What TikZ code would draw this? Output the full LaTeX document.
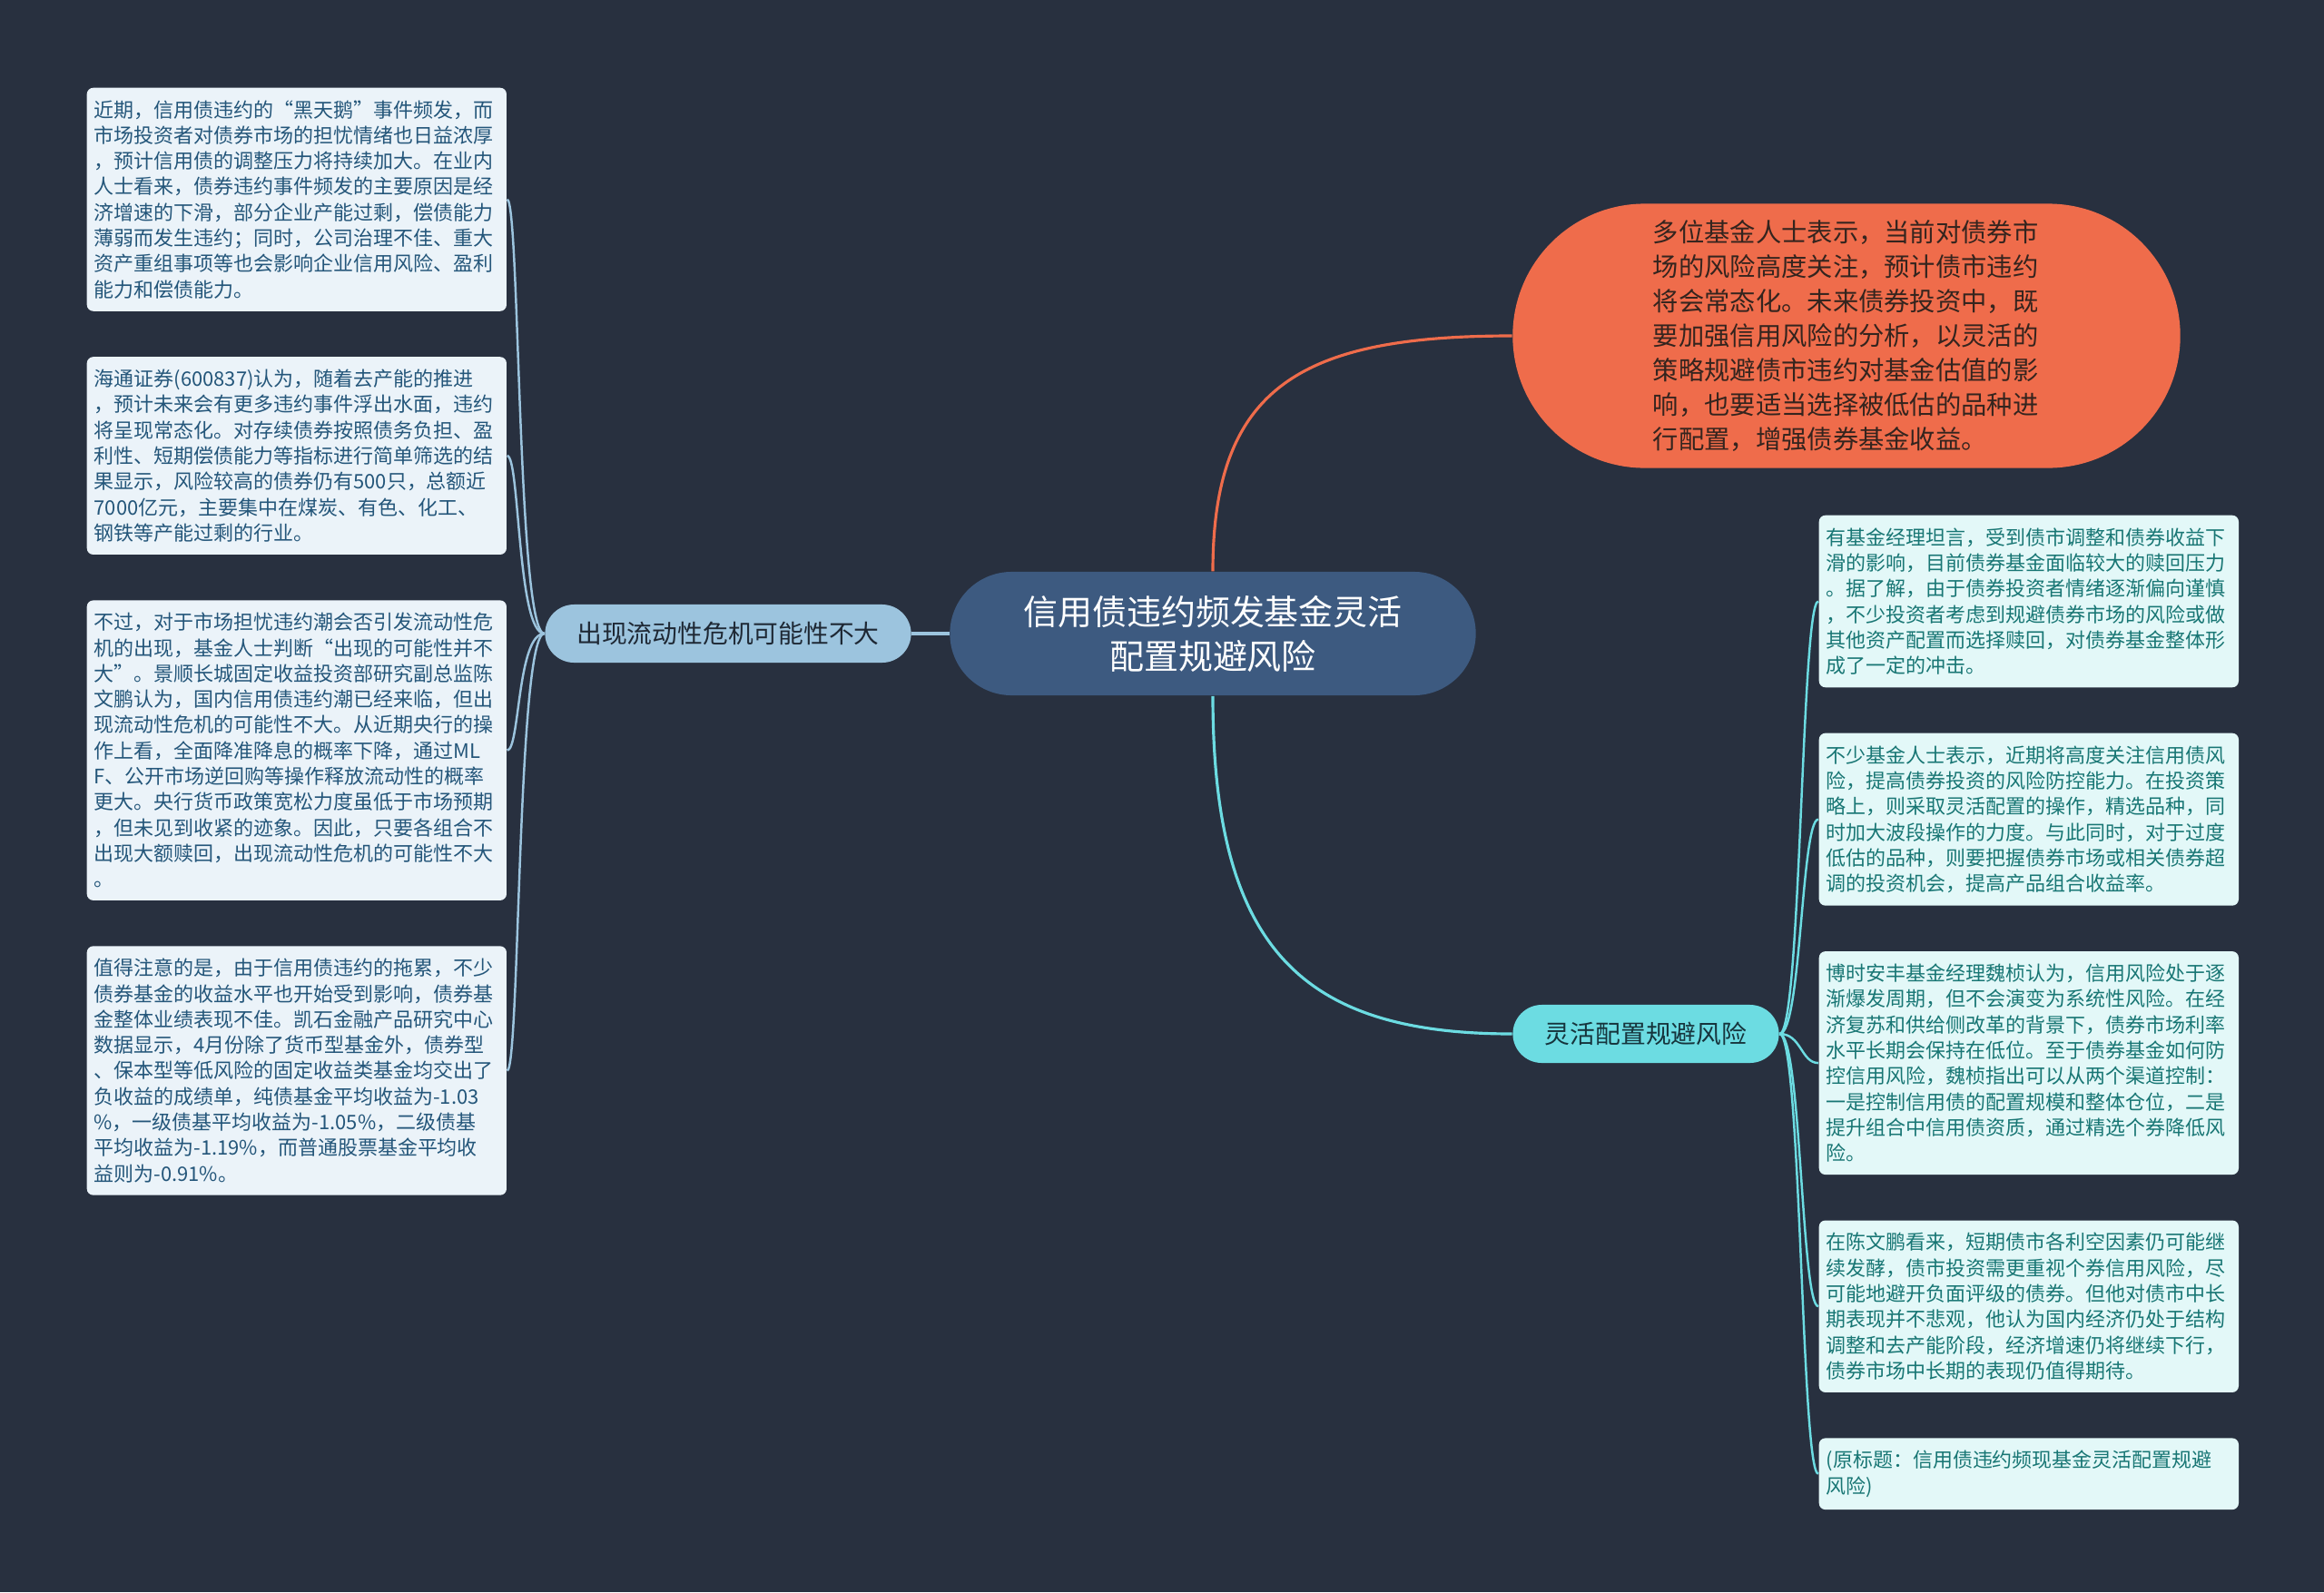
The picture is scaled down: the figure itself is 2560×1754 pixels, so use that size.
\documentclass[tikz,border=0pt]{standalone}
\usepackage{fontspec}
\setmainfont{Noto Sans CJK SC}
\usepackage{xcolor}
\usetikzlibrary{positioning,shapes.misc}

\definecolor{bgnavy}{RGB}{40,48,63}
\definecolor{rootblue}{RGB}{61,90,128}
\definecolor{coral}{RGB}{239,108,75}
\definecolor{coraltext}{RGB}{52,36,30}
\definecolor{skyblue}{RGB}{156,196,222}
\definecolor{skytext}{RGB}{30,40,52}
\definecolor{paleblue}{RGB}{235,243,249}
\definecolor{paletext}{RGB}{36,86,122}
\definecolor{aqua}{RGB}{108,220,226}
\definecolor{aquatext}{RGB}{22,52,60}
\definecolor{paleaqua}{RGB}{227,248,248}
\definecolor{tealtext}{RGB}{24,118,116}

\newcommand{\leaffont}{\fontsize{6.25}{8.05}\selectfont\exhyphenpenalty=10000\relax}

\begin{document}
\begin{tikzpicture}[
    x=0.01cm, y=-0.01cm,
    node distance=0.49cm,
    root/.style={
        rounded rectangle,
        fill=rootblue,
        text=white,
        align=center,
        inner xsep=0pt,
        minimum width=5.79cm,
        minimum height=1.36cm,
        font=\fontsize{10.8}{13.9}\selectfont
    },
    topic/.style={
        rounded rectangle,
        fill=coral,
        text=coraltext,
        align=left,
        text width=4.26cm,
        inner xsep=0pt,
        minimum width=7.35cm,
        minimum height=2.91cm,
        font=\fontsize{8.05}{10.8}\selectfont
    },
    branchL/.style={
        rounded rectangle,
        fill=skyblue,
        text=skytext,
        inner xsep=0pt,
        minimum width=4.03cm,
        minimum height=0.64cm,
        font=\fontsize{7.9}{9.5}\selectfont
    },
    branchR/.style={
        rounded rectangle,
        fill=aqua,
        text=aquatext,
        inner xsep=0pt,
        minimum width=2.93cm,
        minimum height=0.64cm,
        font=\fontsize{7.9}{9.5}\selectfont
    },
    leafL/.style={
        fill=paleblue,
        text=paletext,
        rounded corners=0.07cm,
        align=left,
        text width=4.46cm,
        inner xsep=0.08cm,
        inner ysep=3.9pt,
        font=\leaffont
    },
    leafR/.style={
        leafL,
        fill=paleaqua,
        text=tealtext
    },
    linkO/.style={draw=coral, line width=0.9pt},
    linkL/.style={draw=skyblue, line width=0.9pt},
    linkR/.style={draw=aqua, line width=0.9pt},
    twigL/.style={draw=skyblue, line width=0.7pt},
    twigR/.style={draw=aqua, line width=0.7pt}
]
\fill[bgnavy] (0,0) rectangle (2560,1754);
\useasboundingbox (0,0) rectangle (2560,1754);

% centre and main topics
\node[root] (title) at (1336,698) {信用债违约频发基金灵活\\配置规避风险};
\node[topic] (outlook) at (2034,370) {多位基金人士表示，当前对债券市\\场的风险高度关注，预计债市违约\\将会常态化。未来债券投资中，既\\要加强信用风险的分析，以灵活的\\策略规避债市违约对基金估值的影\\响，也要适当选择被低估的品种进\\行配置，增强债券基金收益。};
\node[branchL] (liquidity) at (802,698) {出现流动性危机可能性不大};
\node[branchR] (flexible) at (1813,1139) {灵活配置规避风险};

% left leaves
\node[leafL, anchor=north west] (blackswan) at (95,96) {近期，信用债违约的“黑天鹅”事件频发，而\\市场投资者对债券市场的担忧情绪也日益浓厚\\，预计信用债的调整压力将持续加大。在业内\\人士看来，债券违约事件频发的主要原因是经\\济增速的下滑，部分企业产能过剩，偿债能力\\薄弱而发生违约；同时，公司治理不佳、重大\\资产重组事项等也会影响企业信用风险、盈利\\能力和偿债能力。};
\node[leafL, below=of blackswan] (haitong) {海通证券(600837)认为，随着去产能的推进\\，预计未来会有更多违约事件浮出水面，违约\\将呈现常态化。对存续债券按照债务负担、盈\\利性、短期偿债能力等指标进行简单筛选的结\\果显示，风险较高的债券仍有500只，总额近\\7000亿元，主要集中在煤炭、有色、化工、\\钢铁等产能过剩的行业。};
\node[leafL, below=of haitong] (crisis) {不过，对于市场担忧违约潮会否引发流动性危\\机的出现，基金人士判断“出现的可能性并不\\大”。景顺长城固定收益投资部研究副总监陈\\文鹏认为，国内信用债违约潮已经来临，但出\\现流动性危机的可能性不大。从近期央行的操\\作上看，全面降准降息的概率下降，通过ML\\F、公开市场逆回购等操作释放流动性的概率\\更大。央行货币政策宽松力度虽低于市场预期\\，但未见到收紧的迹象。因此，只要各组合不\\出现大额赎回，出现流动性危机的可能性不大\\。};
\node[leafL, below=of crisis] (returns) {值得注意的是，由于信用债违约的拖累，不少\\债券基金的收益水平也开始受到影响，债券基\\金整体业绩表现不佳。凯石金融产品研究中心\\数据显示，4月份除了货币型基金外，债券型\\、保本型等低风险的固定收益类基金均交出了\\负收益的成绩单，纯债基金平均收益为-1.03\\\%，一级债基平均收益为-1.05\%，二级债基\\平均收益为-1.19\%，而普通股票基金平均收\\益则为-0.91\%。};

% right leaves
\node[leafR, anchor=north west] (redeem) at (2003,567) {有基金经理坦言，受到债市调整和债券收益下\\滑的影响，目前债券基金面临较大的赎回压力\\。据了解，由于债券投资者情绪逐渐偏向谨慎\\，不少投资者考虑到规避债券市场的风险或做\\其他资产配置而选择赎回，对债券基金整体形\\成了一定的冲击。};
\node[leafR, below=of redeem] (strategy) {不少基金人士表示，近期将高度关注信用债风\\险，提高债券投资的风险防控能力。在投资策\\略上，则采取灵活配置的操作，精选品种，同\\时加大波段操作的力度。与此同时，对于过度\\低估的品种，则要把握债券市场或相关债券超\\调的投资机会，提高产品组合收益率。};
\node[leafR, below=of strategy] (bosera) {博时安丰基金经理魏桢认为，信用风险处于逐\\渐爆发周期，但不会演变为系统性风险。在经\\济复苏和供给侧改革的背景下，债券市场利率\\水平长期会保持在低位。至于债券基金如何防\\控信用风险，魏桢指出可以从两个渠道控制：\\一是控制信用债的配置规模和整体仓位，二是\\提升组合中信用债资质，通过精选个券降低风\\险。};
\node[leafR, below=of bosera] (chen) {在陈文鹏看来，短期债市各利空因素仍可能继\\续发酵，债市投资需更重视个券信用风险，尽\\可能地避开负面评级的债券。但他对债市中长\\期表现并不悲观，他认为国内经济仍处于结构\\调整和去产能阶段，经济增速仍将继续下行，\\债券市场中长期的表现仍值得期待。};
\node[leafR, below=of chen] (source) {(原标题：信用债违约频现基金灵活配置规避\\风险)};

% main links
\draw[linkO] (title.north) .. controls +(0,-205) and +(-230,0) .. (outlook.west);
\draw[linkR] (title.south) .. controls +(0,280) and +(-230,0) .. (flexible.west);
\draw[linkL] (title.west) -- (liquidity.east);

% twigs
\draw[twigL] (liquidity.west) .. controls +(-30,0) and +(14,0) .. (blackswan.east);
\draw[twigL] (liquidity.west) .. controls +(-30,0) and +(14,0) .. (haitong.east);
\draw[twigL] (liquidity.west) .. controls +(-30,0) and +(14,0) .. (crisis.east);
\draw[twigL] (liquidity.west) .. controls +(-30,0) and +(14,0) .. (returns.east);
\draw[twigR] (flexible.east) .. controls +(24,0) and +(-19,0) .. (redeem.west);
\draw[twigR] (flexible.east) .. controls +(24,0) and +(-19,0) .. (strategy.west);
\draw[twigR] (flexible.east) .. controls +(24,0) and +(-19,0) .. (bosera.west);
\draw[twigR] (flexible.east) .. controls +(24,0) and +(-19,0) .. (chen.west);
\draw[twigR] (flexible.east) .. controls +(24,0) and +(-19,0) .. (source.west);

\end{tikzpicture}
\end{document}
